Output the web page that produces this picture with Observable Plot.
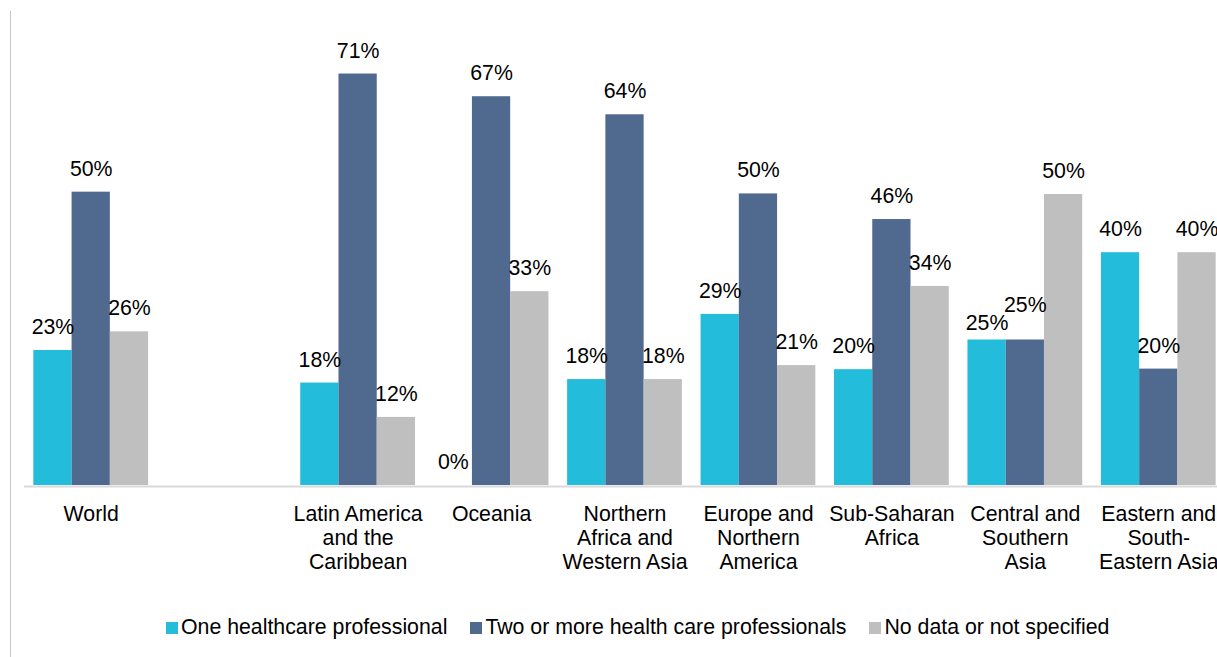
<!DOCTYPE html>
<html>
<head>
<meta charset="utf-8">
<script src="https://cdn.jsdelivr.net/npm/d3@7"></script>
<script src="https://cdn.jsdelivr.net/npm/@observablehq/plot@0.6"></script>
<style>
  body { margin: 0; background: #fff; font-family: "Liberation Sans", Arial, sans-serif; }
  #wrap { position: relative; width: 1217px; height: 657px; overflow: hidden; background: #fff; }
  #vline { position: absolute; left: 10px; top: 11px; width: 1px; height: 646px; background: #c6c6c6; z-index: 2; }
  #chart { position: absolute; left: 0; top: 0; }
  #chart svg { max-width: none; }
  #legend { position: absolute; left: 166px; top: 615px; display: flex; align-items: center; font-size: 21.3px; color: #000; white-space: nowrap; }
  .item { display: flex; align-items: center; margin-right: 23px; }
  .sw { width: 12px; height: 12px; margin-right: 3px; }
</style>
</head>
<body>
<div id="wrap">
  <div id="vline"></div>
  <div id="chart"></div>
  <div id="legend"></div>
</div>
<script>
// Categories (blank second category mirrors the gap in the original chart)
const regions = [
  "World",
  " ",
  "Latin America\nand the\nCaribbean",
  "Oceania",
  "Northern\nAfrica and\nWestern Asia",
  "Europe and\nNorthern\nAmerica",
  "Sub-Saharan\nAfrica",
  "Central and\nSouthern\nAsia",
  "Eastern and\nSouth-\nEastern Asia"
];
const series = [
  "One healthcare professional",
  "Two or more health care professionals",
  "No data or not specified"
];
// Values in percent
const oneProfessional = [23.2, null, 17.6, 0, 18.2, 29.4, 19.9, 25.0, 40.0];
const twoOrMore      = [50.4, null, 70.7, 66.8, 63.7, 50.1, 45.7, 25.0, 20.0];
const noData         = [26.4, null, 11.7, 33.3, 18.2, 20.6, 34.2, 50.0, 40.0];
const colors = ["#23bcdb", "#50698f", "#bfbfbf"];

const valueSets = [oneProfessional, twoOrMore, noData];
const table = [];
regions.forEach((r, i) => {
  // equal neighbouring bars: their labels are staggered so they do not collide
  const tied = oneProfessional[i] != null && Math.round(oneProfessional[i]) === Math.round(twoOrMore[i]);
  series.forEach((s, j) => {
    table.push({region: r, series: s, value: valueSets[j][i], tied: tied && j < 2, idx: j});
  });
});

const label = d => Math.round(d.value) + "%";
const textOpts = {fx: "region", x: "series", y: "value", text: label, lineAnchor: "bottom", fontSize: 21.3, fill: "#000"};

const chart = Plot.plot({
  width: 1226,
  height: 605,
  marginLeft: 24,
  marginRight: 1,
  marginTop: 19.4,
  marginBottom: 120,
  style: {fontFamily: "'Liberation Sans', Arial, sans-serif", fontSize: "21.3px", color: "#000", background: "transparent"},
  fx: {domain: regions, paddingInner: 0.14, paddingOuter: 0.07, round: false},
  x: {domain: series, padding: 0, axis: null, round: false},
  y: {domain: [0, 80], axis: null},
  color: {domain: series, range: colors},
  marks: [
    Plot.ruleY([0], {stroke: "#d9d9d9", strokeWidth: 2, dy: 1, insetLeft: -9.4, insetRight: -9.4}),
    Plot.barY(table, {fx: "region", x: "series", y1: 0, y2: "value", fill: "series"}),
    Plot.text(table, {...textOpts, filter: d => !d.tied, dy: -16.5}),
    Plot.text(table, {...textOpts, filter: d => d.tied && d.idx === 0, dy: -10}),
    Plot.text(table, {...textOpts, filter: d => d.tied && d.idx === 1, dy: -28}),
    Plot.axisFx({anchor: "bottom", tickSize: 0, tickPadding: 18, fontSize: 21.3, lineHeight: 1.14, label: null, tickFormat: d => d})
  ]
});
document.getElementById("chart").appendChild(chart);

const legend = document.getElementById("legend");
series.forEach((s, i) => {
  const item = document.createElement("div");
  item.className = "item";
  const sw = document.createElement("span");
  sw.className = "sw";
  sw.style.background = colors[i];
  const t = document.createElement("span");
  t.textContent = s;
  item.appendChild(sw);
  item.appendChild(t);
  legend.appendChild(item);
});
</script>
</body>
</html>
